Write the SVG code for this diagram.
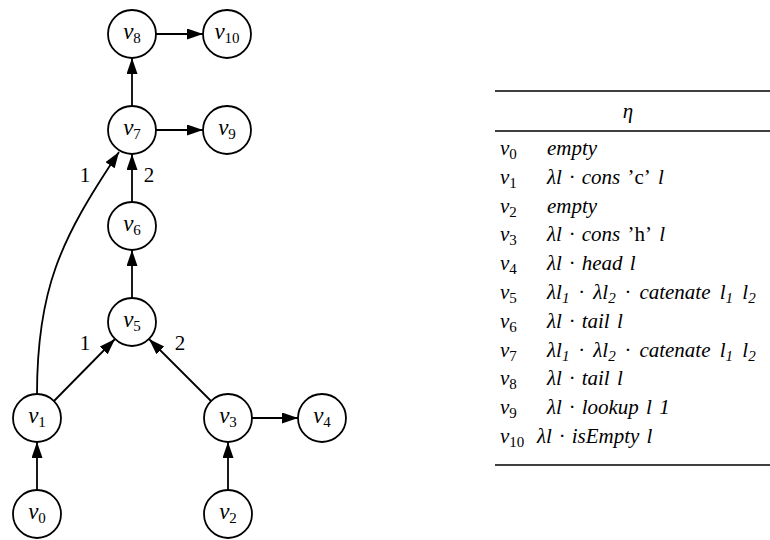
<svg xmlns="http://www.w3.org/2000/svg" width="770" height="540" viewBox="0 0 770 540" font-family="'Liberation Serif', 'Times New Roman', Times, 'DejaVu Serif', serif">
<style>
  text { font-family: "Liberation Serif", "Times New Roman", Times, "DejaVu Serif", serif; }
  .node circle { fill: #fff; stroke: #000; stroke-width: 1.8; }
  .lbl { font-style: italic; font-size: 23px; text-anchor: middle; fill: #000; }
  .sub { font-style: normal; font-size: 15px; }
  .edge { fill: none; stroke: #000; stroke-width: 1.8; marker-end: url(#arr); }
  .elbl { font-size: 21px; text-anchor: middle; fill: #000; }
  .tbl { font-style: italic; font-size: 21px; fill: #000; word-spacing: 2px; }
  .wide { word-spacing: 4px; }
  .tsub { font-style: normal; font-size: 15px; }
  .isub { font-style: italic; font-size: 15px; }
  .up { font-style: normal; }
  .rule { stroke: #000; stroke-width: 1.5; }
</style>
<defs>
  <marker id="arr" markerUnits="userSpaceOnUse" markerWidth="17" markerHeight="12" refX="16" refY="5.5" orient="auto">
    <path d="M0,0 L16,5.5 L0,11 z" fill="#000"/>
  </marker>
</defs>

<g id="connectors">
  <line class="edge" x1="37" y1="490" x2="37" y2="442"/>
  <line class="edge" x1="228" y1="490" x2="228" y2="442"/>
  <line class="edge" x1="252" y1="418" x2="298" y2="418"/>
  <line class="edge" x1="54" y1="401" x2="115" y2="339"/>
  <line class="edge" x1="211" y1="401" x2="149" y2="339"/>
  <line class="edge" x1="132" y1="298" x2="132" y2="250"/>
  <line class="edge" x1="132" y1="202" x2="132" y2="154"/>
  <line class="edge" x1="132" y1="106" x2="132" y2="58"/>
  <line class="edge" x1="156" y1="130" x2="203" y2="130"/>
  <line class="edge" x1="156" y1="34" x2="203" y2="34"/>
  <path class="edge" d="M37,394 C37,290 60,240 119,152"/>
  <text class="elbl" x="85" y="182">1</text>
  <text class="elbl" x="149" y="182">2</text>
  <text class="elbl" x="85" y="350">1</text>
  <text class="elbl" x="180" y="350">2</text>
</g>

<g id="v0" class="node"><circle cx="37" cy="514" r="24"/><text class="lbl" x="37" y="519">v<tspan class="sub" dy="4">0</tspan></text></g>
<g id="v1" class="node"><circle cx="37" cy="418" r="24"/><text class="lbl" x="37" y="423">v<tspan class="sub" dy="4">1</tspan></text></g>
<g id="v2" class="node"><circle cx="228" cy="514" r="24"/><text class="lbl" x="228" y="519">v<tspan class="sub" dy="4">2</tspan></text></g>
<g id="v3" class="node"><circle cx="228" cy="418" r="24"/><text class="lbl" x="228" y="423">v<tspan class="sub" dy="4">3</tspan></text></g>
<g id="v4" class="node"><circle cx="322" cy="418" r="24"/><text class="lbl" x="322" y="423">v<tspan class="sub" dy="4">4</tspan></text></g>
<g id="v5" class="node"><circle cx="132" cy="322" r="24"/><text class="lbl" x="132" y="327">v<tspan class="sub" dy="4">5</tspan></text></g>
<g id="v6" class="node"><circle cx="132" cy="226" r="24"/><text class="lbl" x="132" y="231">v<tspan class="sub" dy="4">6</tspan></text></g>
<g id="v7" class="node"><circle cx="132" cy="130" r="24"/><text class="lbl" x="132" y="135">v<tspan class="sub" dy="4">7</tspan></text></g>
<g id="v8" class="node"><circle cx="132" cy="34" r="24"/><text class="lbl" x="132" y="39">v<tspan class="sub" dy="4">8</tspan></text></g>
<g id="v9" class="node"><circle cx="227" cy="130" r="24"/><text class="lbl" x="227" y="135">v<tspan class="sub" dy="4">9</tspan></text></g>
<g id="v10" class="node"><circle cx="227" cy="34" r="24"/><text class="lbl" x="227" y="39">v<tspan class="sub" dy="4">10</tspan></text></g>

<g id="table">
  <line class="rule" x1="495" y1="91" x2="770" y2="91"/>
  <line class="rule" x1="495" y1="131" x2="770" y2="131"/>
  <line class="rule" x1="495" y1="465" x2="770" y2="465" stroke-width="2"/>
  <text class="tbl" x="628" y="118" text-anchor="middle">η</text>

  <text class="tbl" x="500" y="155">v<tspan class="tsub" dy="4">0</tspan></text>
  <text class="tbl" x="547" y="155">empty</text>

  <text class="tbl" x="500" y="184">v<tspan class="tsub" dy="4">1</tspan></text>
  <text class="tbl" x="547" y="184">λl · cons <tspan class="up">’c’</tspan> l</text>

  <text class="tbl" x="500" y="213">v<tspan class="tsub" dy="4">2</tspan></text>
  <text class="tbl" x="547" y="213">empty</text>

  <text class="tbl" x="500" y="241">v<tspan class="tsub" dy="4">3</tspan></text>
  <text class="tbl" x="547" y="241">λl · cons <tspan class="up">’h’</tspan> l</text>

  <text class="tbl" x="500" y="270">v<tspan class="tsub" dy="4">4</tspan></text>
  <text class="tbl" x="547" y="270">λl · head  l</text>

  <text class="tbl" x="500" y="299">v<tspan class="tsub" dy="4">5</tspan></text>
  <text class="tbl wide" x="547" y="299">λl<tspan class="isub" dy="4">1</tspan><tspan dy="-4"> · λl</tspan><tspan class="isub" dy="4">2</tspan><tspan dy="-4"> · catenate  l</tspan><tspan class="isub" dy="4">1</tspan><tspan dy="-4">  l</tspan><tspan class="isub" dy="4">2</tspan></text>

  <text class="tbl" x="500" y="328">v<tspan class="tsub" dy="4">6</tspan></text>
  <text class="tbl" x="547" y="328">λl · tail  l</text>

  <text class="tbl" x="500" y="357">v<tspan class="tsub" dy="4">7</tspan></text>
  <text class="tbl wide" x="547" y="357">λl<tspan class="isub" dy="4">1</tspan><tspan dy="-4"> · λl</tspan><tspan class="isub" dy="4">2</tspan><tspan dy="-4"> · catenate  l</tspan><tspan class="isub" dy="4">1</tspan><tspan dy="-4">  l</tspan><tspan class="isub" dy="4">2</tspan></text>

  <text class="tbl" x="500" y="385">v<tspan class="tsub" dy="4">8</tspan></text>
  <text class="tbl" x="547" y="385">λl · tail  l</text>

  <text class="tbl" x="500" y="414">v<tspan class="tsub" dy="4">9</tspan></text>
  <text class="tbl" x="547" y="414">λl · lookup  l  1</text>

  <text class="tbl" x="500" y="443">v<tspan class="tsub" dy="4">10</tspan></text>
  <text class="tbl" x="537" y="443">λl · isEmpty  l</text>
</g>
</svg>
